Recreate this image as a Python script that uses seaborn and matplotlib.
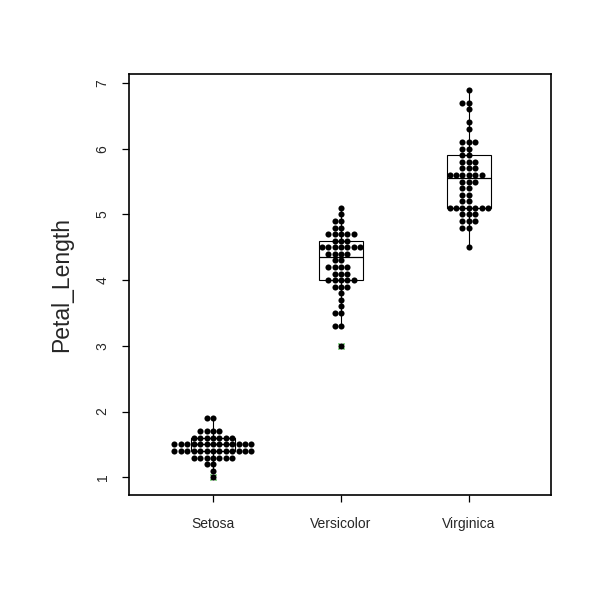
import matplotlib
matplotlib.use("Agg")
import matplotlib.pyplot as plt
import numpy as np
import pandas as pd
import seaborn as sns

# Iris petal lengths by species
species = ["Setosa", "Versicolor", "Virginica"]
setosa = [1.4, 1.4, 1.3, 1.5, 1.4, 1.7, 1.4, 1.5, 1.4, 1.5, 1.5, 1.6, 1.4, 1.1, 1.2,
          1.5, 1.3, 1.4, 1.7, 1.5, 1.7, 1.5, 1.0, 1.7, 1.9, 1.6, 1.6, 1.5, 1.4, 1.6,
          1.6, 1.5, 1.5, 1.4, 1.5, 1.2, 1.3, 1.4, 1.3, 1.5, 1.3, 1.3, 1.3, 1.6, 1.9,
          1.4, 1.6, 1.4, 1.5, 1.4]
versicolor = [4.7, 4.5, 4.9, 4.0, 4.6, 4.5, 4.7, 3.3, 4.6, 3.9, 3.5, 4.2, 4.0, 4.7, 3.6,
              4.4, 4.5, 4.1, 4.5, 3.9, 4.8, 4.0, 4.9, 4.7, 4.3, 4.4, 4.8, 5.0, 4.5, 3.5,
              3.8, 3.7, 3.9, 5.1, 4.5, 4.5, 4.7, 4.4, 4.1, 4.0, 4.4, 4.6, 4.0, 3.3, 4.2,
              4.2, 4.2, 4.3, 3.0, 4.1]
virginica = [6.0, 5.1, 5.9, 5.6, 5.8, 6.6, 4.5, 6.3, 5.8, 6.1, 5.1, 5.3, 5.5, 5.0, 5.1,
             5.3, 5.5, 6.7, 6.9, 5.0, 5.7, 4.9, 6.7, 4.9, 5.7, 6.0, 4.8, 4.9, 5.6, 5.8,
             6.1, 6.4, 5.6, 5.1, 5.6, 6.1, 5.6, 5.5, 4.8, 5.4, 5.6, 5.1, 5.1, 5.9, 5.7,
             5.2, 5.0, 5.2, 5.4, 5.1]
y_ticks = [1, 2, 3, 4, 5, 6, 7]

groups = [setosa, versicolor, virginica]
df = pd.DataFrame({
    "Species": np.repeat(species, [len(g) for g in groups]),
    "Petal_Length": np.concatenate(groups),
})


def fivenum(v):
    # Tukey hinges, like R's boxplot.stats
    x = np.sort(np.asarray(v))
    n = len(x)
    n4 = np.floor((n + 3) / 2) / 2
    d = np.array([1, n4, (n + 1) / 2, n + 1 - n4, n]) - 1
    return 0.5 * (x[np.floor(d).astype(int)] + x[np.ceil(d).astype(int)])


stats = []
for name, g in zip(species, groups):
    g = np.asarray(g)
    _, q1, med, q3, _ = fivenum(g)
    iqr = q3 - q1
    inside = g[(g >= q1 - 1.5 * iqr - 1e-9) & (g <= q3 + 1.5 * iqr + 1e-9)]
    stats.append({
        "label": name, "med": med, "q1": q1, "q3": q3,
        "whislo": inside.min(), "whishi": inside.max(),
        "fliers": g[(g < inside.min()) | (g > inside.max())],
    })

sns.set_style("white")
plt.rcParams["font.family"] = ["Liberation Sans", "DejaVu Sans"]

fig = plt.figure(figsize=(6, 6), dpi=100)
ax = fig.add_axes([0.215, 0.175, 0.703, 0.702])

sns.swarmplot(data=df, x="Species", y="Petal_Length", order=species,
              color="black", size=4.4, linewidth=0, ax=ax, zorder=3)

ax.bxp(stats, positions=[0, 1, 2], widths=0.34, showcaps=False,
       patch_artist=True, manage_ticks=False,
       boxprops=dict(facecolor="white", edgecolor="black", linewidth=0.8, zorder=1),
       medianprops=dict(color="black", linewidth=0.9, zorder=1),
       whiskerprops=dict(color="black", linewidth=0.8, zorder=1),
       flierprops=dict(marker="x", markeredgecolor="#22b022", markersize=5,
                       markeredgewidth=1.0, zorder=2))

ax.set_xlim(-0.656, 2.64)
ax.set_ylim(0.73, 7.14)
ax.set_yticks(y_ticks)
ax.set_yticklabels([str(t) for t in y_ticks], rotation=90, va="center")
ax.set_xlabel("")
ax.set_ylabel("Petal_Length", fontsize=16.5, labelpad=16)

for s in ax.spines.values():
    s.set_visible(True)
    s.set_color("black")
    s.set_linewidth(1.2)
ax.tick_params(axis="both", direction="out", length=5, width=0.9, color="black",
               labelsize=10, left=True, bottom=True)
ax.tick_params(axis="y", pad=9)
ax.tick_params(axis="x", pad=11)

fig.savefig("out.png", dpi=100)
